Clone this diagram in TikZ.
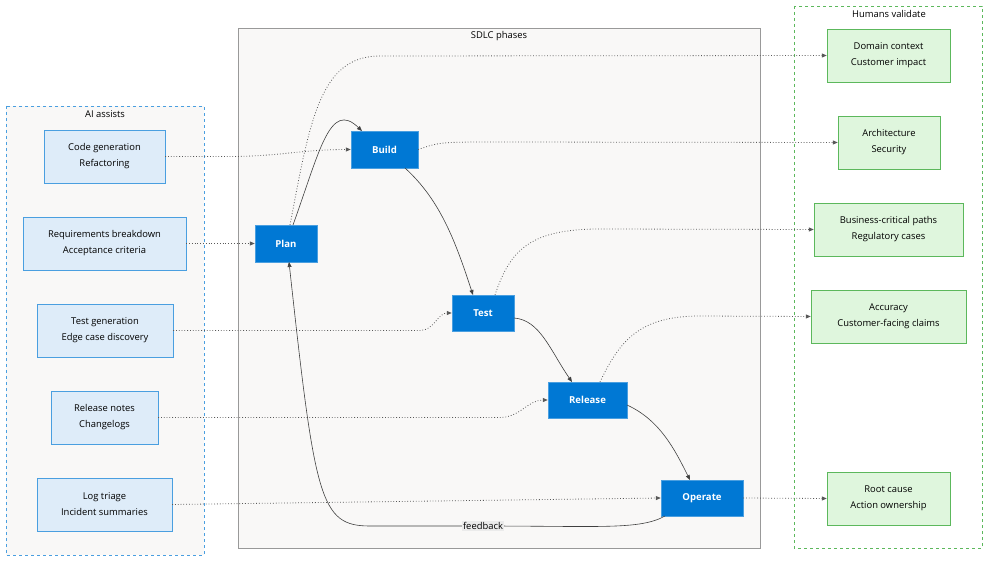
\documentclass[tikz,border=0pt]{standalone}
\usepackage{fontspec}
\setmainfont{Open Sans}
\usetikzlibrary{arrows.meta}
\definecolor{ph}{HTML}{0078D4}
\definecolor{lf}{HTML}{DEECF9}
\definecolor{lb}{HTML}{4A9FE0}
\definecolor{rf}{HTML}{DFF6DD}
\definecolor{rb}{HTML}{5CB85C}
\definecolor{cbg}{HTML}{F9F8F7}
\begin{document}
\begin{tikzpicture}[x=1pt,y=-1pt,font=\fontsize{9.4}{16}\selectfont,
 phase/.style={draw=lb,fill=ph,text=white,font=\fontsize{9.6}{12}\selectfont\bfseries,inner sep=0},
 lbox/.style={draw=lb,fill=lf,align=center,inner sep=0},
 rbox/.style={draw=rb,fill=rf,align=center,inner sep=0},
 dot/.style={dotted,line width=0.8pt,draw=black!65,-{Triangle[length=5pt,width=4pt]}},
 sol/.style={line width=0.6pt,draw=black!75,-{Triangle[length=5pt,width=4pt]}}]
\useasboundingbox (0,0) rectangle (999,567);
\fill[white] (0,0) rectangle (999,567);
% clusters
\draw[lb,dashed,fill=cbg] (6,106) rectangle (204,555);
\node at (105,114) {AI assists};
\draw[black!40,fill=cbg] (238,28) rectangle (760,548);
\node at (499,36) {SDLC phases};
\draw[rb,dashed,fill=white] (794,6) rectangle (982,548);
\node at (889,14) {Humans validate};
% left
\node[lbox,minimum width=121,minimum height=53] (cg) at (104.5,156.5) {Code generation\\Refactoring};
\node[lbox,minimum width=163,minimum height=53] (rq) at (104.5,243.5) {Requirements breakdown\\Acceptance criteria};
\node[lbox,minimum width=136,minimum height=53] (tg) at (105,330.5) {Test generation\\Edge case discovery};
\node[lbox,minimum width=107,minimum height=53] (rn) at (104.5,417.5) {Release notes\\Changelogs};
\node[lbox,minimum width=135,minimum height=53] (lt) at (104.5,504.5) {Log triage\\Incident summaries};
% phases
\node[phase,minimum width=62,minimum height=37] (plan) at (286,243.5) {Plan};
\node[phase,minimum width=67,minimum height=37] (build) at (384.5,149.5) {Build};
\node[phase,minimum width=62,minimum height=36] (test) at (483,313) {Test};
\node[phase,minimum width=79,minimum height=36] (rel) at (587.5,400) {Release};
\node[phase,minimum width=82,minimum height=36] (op) at (702,498) {Operate};
% right
\node[rbox,minimum width=123,minimum height=53] (dc) at (888.5,55.5) {Domain context\\Customer impact};
\node[rbox,minimum width=102,minimum height=53] (ar) at (889,142.5) {Architecture\\Security};
\node[rbox,minimum width=149,minimum height=53] (bc) at (888.5,229.5) {Business-critical paths\\Regulatory cases};
\node[rbox,minimum width=155,minimum height=53] (ac) at (888.5,316.5) {Accuracy\\Customer-facing claims};
\node[rbox,minimum width=123,minimum height=53] (rc) at (888.5,498.5) {Root cause\\Action ownership};
% left -> phases
\draw[dot] (cg.east) -- (cg.east -| 230,0) to[out=0,in=180] (build.west);
\draw[dot] (rq.east) -- (plan.west);
\draw[dot] (tg.east) -- (420,330.5) to[out=0,in=180] (test.west);
\draw[dot] (rn.east) -- (500,417.5) to[out=0,in=180] (rel.west);
\draw[dot] (lt.east) -- (op.west);
% phases -> right
\draw[dot] (290,225) .. controls (310,120) and (320,56) .. (380,56) -- (dc.west);
\draw[dot] (build.east) .. controls (440,142) .. (500,142) -- (ar.west);
\draw[dot] (495,295) .. controls (510,250) and (530,229) .. (600,229) -- (bc.west);
\draw[dot] (600,382) .. controls (620,340) and (640,316) .. (700,316) -- (ac.west);
\draw[dot] (op.east) -- (rc.west);
% solid
\draw[sol] (293,225) .. controls (320,150) and (330,100) .. (362,131);
\draw[sol] (405,168) .. controls (440,200) and (455,240) .. (473,295);
\draw[sol] (514,318) .. controls (540,320) and (550,350) .. (572,382);
\draw[sol] (627,405) .. controls (660,420) and (675,450) .. (690,480);
\draw[sol] (665,516) .. controls (640,530) and (600,526) .. (483,526) -- (370,526) .. controls (320,526) and (315,500) .. (289,262);
\node[fill=black!8,inner sep=1.5pt] at (483,526) {feedback};
\end{tikzpicture}
\end{document}
